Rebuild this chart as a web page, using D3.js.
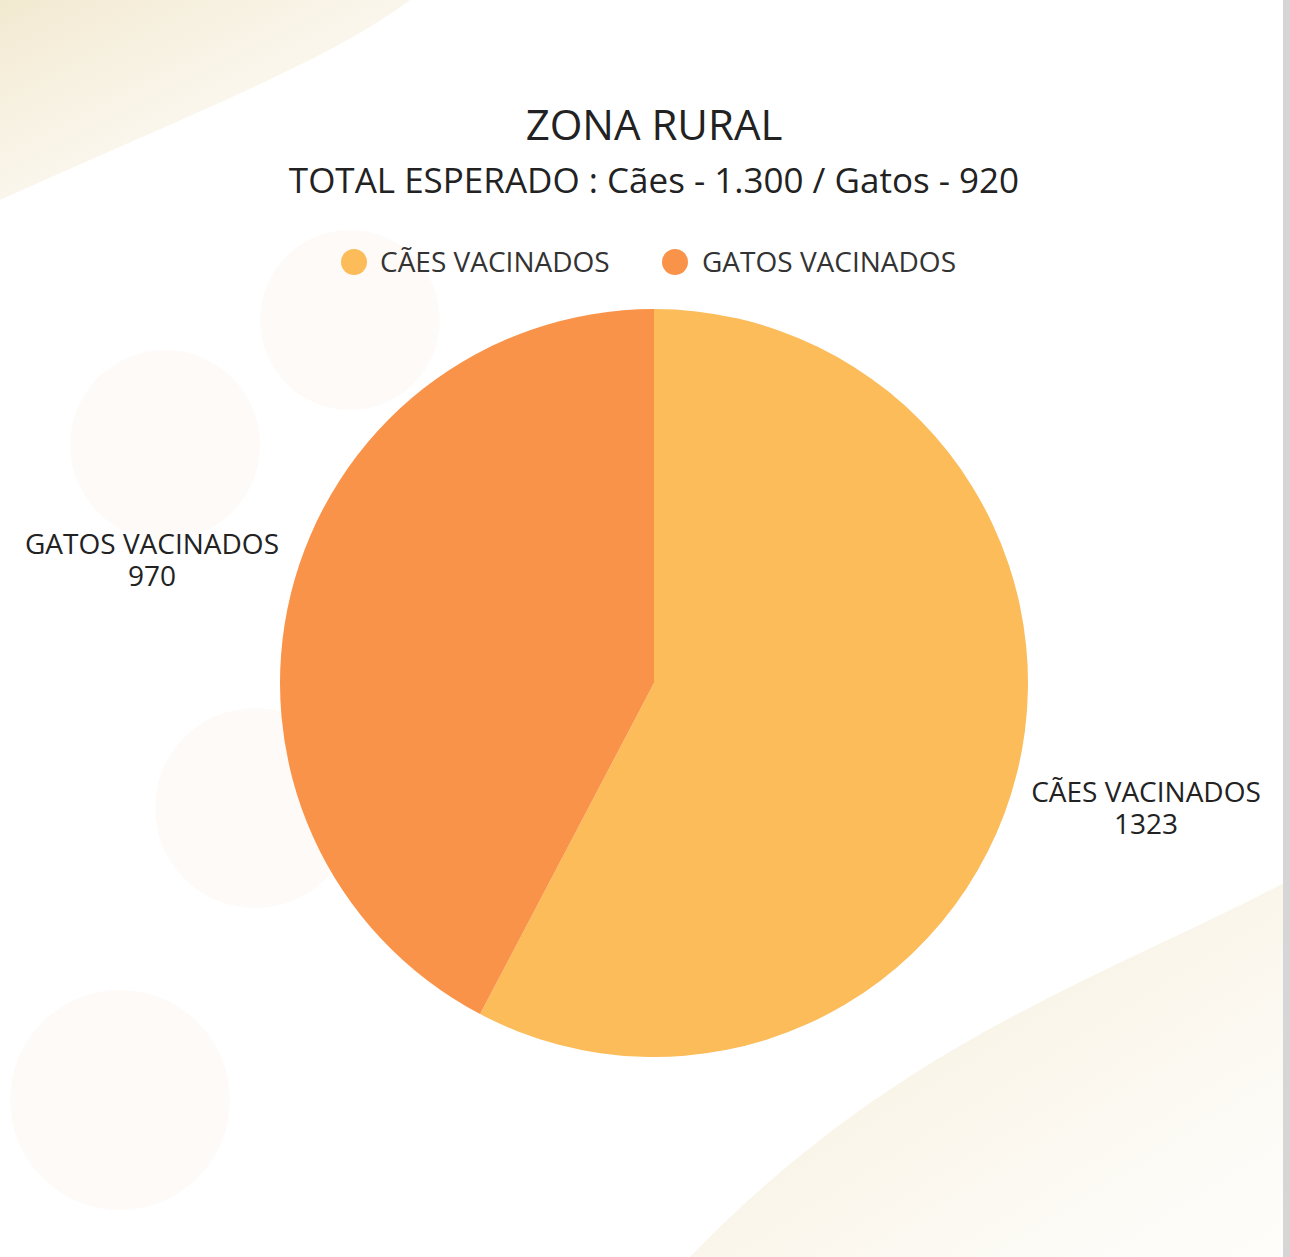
<!DOCTYPE html>
<html><head><meta charset="utf-8">
<script src="https://cdn.jsdelivr.net/npm/d3@7"></script>
<style>body{margin:0;background:#fff}svg{display:block}</style>
</head><body>
<svg id="c" width="1290" height="1257"></svg>
<script>
const categories = ["CÃES VACINADOS", "GATOS VACINADOS"];
const values = [1323, 970];
const colors = ["#FBBC59", "#FA934A"];
const title = "ZONA RURAL";
const subtitle = "TOTAL ESPERADO : Cães - 1.300 / Gatos - 920";

const svg = d3.select("#c");
const font = "'Open Sans', sans-serif";
const defs = svg.append("defs");
const g1 = defs.append("linearGradient").attr("id","wv").attr("x1",0).attr("y1",0).attr("x2",1).attr("y2",1);
g1.append("stop").attr("offset",0).attr("stop-color","#efe3c4").attr("stop-opacity",0.8);
g1.append("stop").attr("offset",1).attr("stop-color","#fbf6ea").attr("stop-opacity",0.2);
svg.append("path").attr("d","M0,0 L410,0 C330,60 200,110 0,200 Z").attr("fill","url(#wv)");
svg.append("path").attr("d","M1290,880 C1100,980 900,1040 690,1257 L1290,1257 Z").attr("fill","url(#wv)");
[[165,445,95],[255,808,100],[350,320,90],[120,1100,110]].forEach(([x,y,r])=>
  svg.append("circle").attr("cx",x).attr("cy",y).attr("r",r).attr("fill","#fbeee8").attr("opacity",0.3));
svg.append("rect").attr("x",1283).attr("y",0).attr("width",7).attr("height",1257).attr("fill","#d6d6d6");

svg.append("text").attr("x",654).attr("y",140).attr("text-anchor","middle")
  .attr("font-family",font).attr("font-size",42).attr("fill","#222").text(title);
svg.append("text").attr("x",654).attr("y",193).attr("text-anchor","middle")
  .attr("font-family",font).attr("font-size",35).attr("fill","#222").text(subtitle);

const leg = [[354,380],[675,702]];
categories.forEach((c,i)=>{
  svg.append("circle").attr("cx",leg[i][0]).attr("cy",262).attr("r",13).attr("fill",colors[i]);
  svg.append("text").attr("x",leg[i][1]).attr("y",272).attr("font-family",font).attr("font-size",28)
    .attr("fill","#333").text(c);
});

const cx=654, cy=683, R=374;
const pie = d3.pie().sort(null).value(d=>d)(values);
const arc = d3.arc().innerRadius(0).outerRadius(R);
const g = svg.append("g").attr("transform",`translate(${cx},${cy})`);
g.selectAll("path").data(pie).join("path").attr("d",arc).attr("fill",(d,i)=>colors[i]);

const labelPos = [[1146,802],[152,554]];
pie.forEach((d,i)=>{
  const t = svg.append("text").attr("text-anchor","middle").attr("font-family",font)
    .attr("font-size",28).attr("fill","#222");
  t.append("tspan").attr("x",labelPos[i][0]).attr("y",labelPos[i][1]).text(categories[i]);
  t.append("tspan").attr("x",labelPos[i][0]).attr("y",labelPos[i][1]+32).text(values[i]);
});
</script>
</body></html>
